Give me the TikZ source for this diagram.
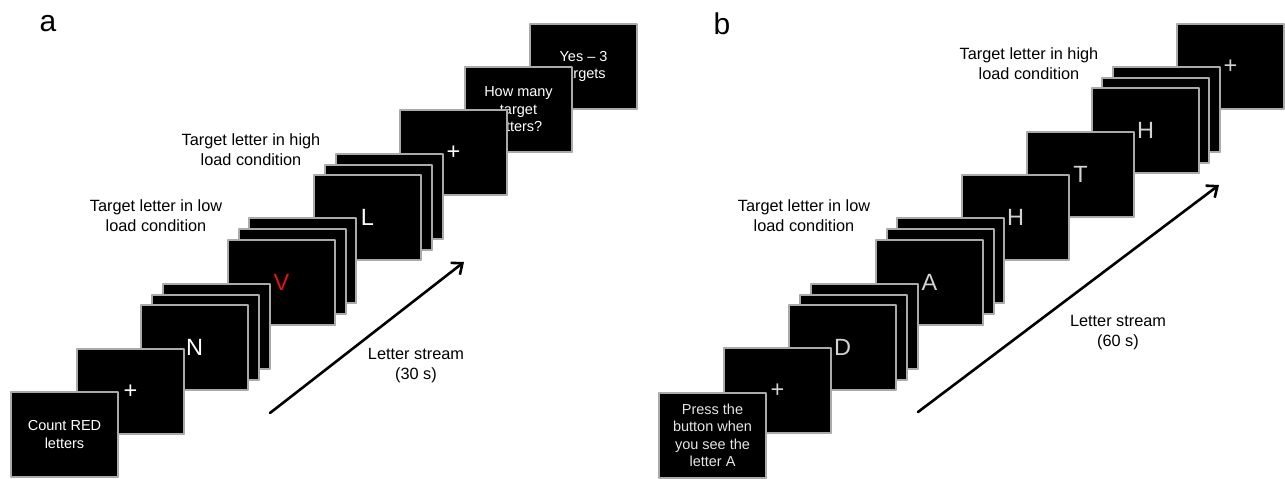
\documentclass[tikz,border=0pt]{standalone}
\usepackage{fontspec}
\setmainfont{Liberation Sans}
\usetikzlibrary{arrows.meta,shadows}
\definecolor{screenedge}{RGB}{170,170,170}
\definecolor{targetred}{RGB}{228,18,18}
\definecolor{lettergray}{RGB}{210,210,210}

\begin{document}
\begin{tikzpicture}[x=1pt,y=-1pt,line cap=round,line join=round,
        screen/.style={fill=black,draw=screenedge,line width=1.2pt,
            minimum width=107pt,minimum height=85pt,inner sep=0pt,
            align=center,text=white,font=\fontsize{14.5}{17.5}\selectfont,
            drop shadow={shadow xshift=1pt,shadow yshift=-1.2pt,opacity=0.2}},
        bigletter/.style={font=\fontsize{23.5}{28}\selectfont},
        caption/.style={align=center,font=\fontsize{16.3}{20}\selectfont},
        panel/.style={font=\fontsize{30}{30}\selectfont},
        stream/.style={line width=2.6pt,-{Straight Barb[length=9pt,width=15pt]}}]
        \useasboundingbox (0,0) rectangle (1285,479);

        \node[panel] (aPanel) at (48,24) {a};

        \node[screen] (aAnswer) at (583.5,66.5) {Yes -- 3\\targets};
        \node[screen] (aQuestion) at (518.5,109.5) {How many\\target\\letters?};
        \node[screen,bigletter] (aFixEnd) at (453.5,152.5) {+};
        \node[screen] (aL3) at (389.5,196.5) {};
        \node[screen] (aL2) at (378.5,207.5) {};
        \node[screen,bigletter] (aL) at (367.5,217.5) {L};
        \node[screen] (aV3) at (302.5,260.5) {};
        \node[screen] (aV2) at (292.5,271.5) {};
        \node[screen,bigletter,text=targetred] (aV) at (281.5,282.5) {V};
        \node[screen] (aN3) at (216.5,326.5) {};
        \node[screen] (aN2) at (205.5,337.5) {};
        \node[screen,bigletter] (aN) at (194.5,347.5) {N};
        \node[screen,bigletter] (aFix) at (130.5,391.5) {+};
        \node[screen] (aCue) at (64.5,434.5) {Count RED\\letters};

        \node[caption] (aLowLabel) at (156,216)
            {Target letter in low\\load condition};
        \node[caption] (aHighLabel) at (251,150)
            {Target letter in high\\load condition};
        \node[caption] (aStreamLabel) at (416,366)
            {Letter stream\\(30 s)};

        \coordinate (aStreamStart) at (270,413);
        \coordinate (aStreamEnd) at (464,262);
        \draw[stream] (aStreamStart) -- (aStreamEnd);

        \node[panel] (bPanel) at (722,24) {b};

        \node[screen,bigletter,text=lettergray] (bFixEnd) at (1230.5,66.5) {+};
        \node[screen] (bH3) at (1166.5,109.5) {};
        \node[screen] (bH2) at (1155.5,120.5) {};
        \node[screen,bigletter,text=lettergray] (bH) at (1145.5,130.5) {H};
        \node[screen,bigletter,text=lettergray] (bT) at (1080.5,174.5) {T};
        \node[screen,bigletter,text=lettergray] (bHfirst) at (1015.5,217.5) {H};
        \node[screen] (bA3) at (950.5,260.5) {};
        \node[screen] (bA2) at (940.5,271.5) {};
        \node[screen,bigletter,text=lettergray] (bA) at (929.5,282.5) {A};
        \node[screen] (bD3) at (864.5,326.5) {};
        \node[screen] (bD2) at (853.5,337.5) {};
        \node[screen,bigletter,text=lettergray] (bD) at (842.5,347.5) {D};
        \node[screen,bigletter,text=lettergray] (bFix) at (777.5,390.5) {+};
        \node[screen,text=white!90!black] (bCue) at (712.5,435.5)
            {Press the\\button when\\you see the\\letter A};

        \node[caption] (bLowLabel) at (804,216)
            {Target letter in low\\load condition};
        \node[caption] (bHighLabel) at (1029,64)
            {Target letter in high\\load condition};
        \node[caption] (bStreamLabel) at (1118,333)
            {Letter stream\\(60 s)};

        \coordinate (bStreamStart) at (918,412);
        \coordinate (bStreamEnd) at (1219,185);
        \draw[stream] (bStreamStart) -- (bStreamEnd);
    \end{tikzpicture}
\end{document}
